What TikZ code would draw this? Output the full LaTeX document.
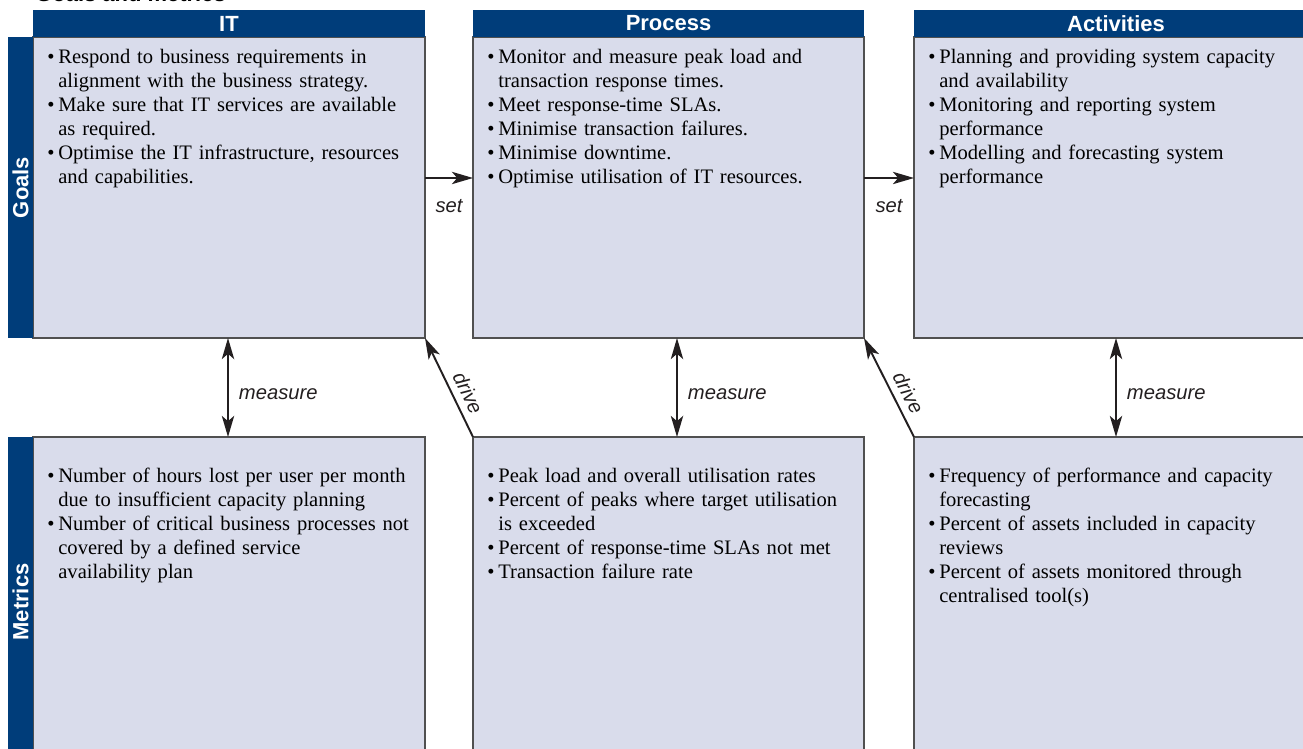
\documentclass[tikz,border=0pt]{standalone}
\usepackage{fontspec}
\setmainfont{Liberation Serif}
\setsansfont{Liberation Sans}
\usetikzlibrary{positioning,calc,arrows.meta}
\definecolor{colorhead}{HTML}{003D7A}
\definecolor{colorbody}{HTML}{D9DCEB}
\definecolor{colorrule}{HTML}{505050}
\definecolor{colorlink}{HTML}{231F20}
\newlength{\GoalsFigureUnit}
\setlength{\GoalsFigureUnit}{0.2mm}
\newcommand{\GoalsBodyFont}{\fontsize{11.7pt}{13.66pt}\selectfont}
\newcommand{\GoalsHeadFont}{\fontsize{12.5pt}{14pt}\selectfont\sffamily\bfseries}
\newcommand{\GoalsLinkFont}{\fontsize{11.5pt}{14pt}\selectfont\sffamily\itshape}
\newcommand{\gitem}[1]{\hangindent=11\GoalsFigureUnit\hangafter=1\noindent\makebox[11\GoalsFigureUnit][l]{\textbullet}#1\par}
\tikzset{
  goals body/.style={
    draw=colorrule, fill=colorbody, line width=0.6pt,
    anchor=north west, inner sep=0, outer sep=0
  },
  goals head/.style={
    fill=colorhead, text=white, font=\GoalsHeadFont,
    minimum height=27\GoalsFigureUnit, inner sep=0, outer sep=0
  },
  goals side/.style={
    fill=colorhead, minimum width=25\GoalsFigureUnit,
    inner sep=0, outer sep=0
  },
  side label/.style={text=white, font=\GoalsHeadFont, rotate=90, inner sep=0},
  goals title/.style={anchor=base west, font=\GoalsHeadFont, inner sep=0},
  goals text/.style={
    anchor=north west, inner sep=0, text width=380\GoalsFigureUnit,
    font=\GoalsBodyFont, text=black
  },
  link label/.style={font=\GoalsLinkFont, text=colorlink, inner sep=0},
  set link/.style={
    -{Stealth[length=12pt,width=7pt,inset=3pt]}, line width=1.1pt, draw=colorlink
  },
  measure link/.style={
    {Stealth[length=12pt,width=7pt,inset=3pt]}-{Stealth[length=12pt,width=7pt,inset=3pt]},
    line width=1.1pt, draw=colorlink
  },
  drive link/.style={
    -{Stealth[length=12pt,width=7pt,inset=3pt]}, line width=1.1pt, draw=colorlink
  }
}

\begin{document}
\begin{tikzpicture}[x=\GoalsFigureUnit, y=-\GoalsFigureUnit]
  \useasboundingbox (0,0) rectangle (1303,749);
  \node[goals title] (goals-title) at (35,2) {Goals and metrics};
  \foreach \col/\xpos/\wid/\colname in {it/33/392/IT,process/473/391/Process,activities/914/404/Activities} {
    \node[goals body, minimum width=\wid\GoalsFigureUnit, minimum height=301\GoalsFigureUnit]
      (goals-\col) at (\xpos,37) {};
    \node[goals head, minimum width=\wid\GoalsFigureUnit, above=0pt of goals-\col] (head-\col) {\colname};
    \node[goals body, minimum width=\wid\GoalsFigureUnit, minimum height=330\GoalsFigureUnit]
      (metrics-\col) at (\xpos,437) {};
  }
  \node[goals side, minimum height=301\GoalsFigureUnit, left=0pt of goals-it] (side-goals) {};
  \node[side label] at (side-goals.center) {Goals};
  \node[goals side, minimum height=330\GoalsFigureUnit, left=0pt of metrics-it] (side-metrics) {};
  \node[side label] at (side-metrics.center) {Metrics};
  % goals
  \node[goals text] (goals-it-text) at ($(goals-it.north west)+(14,12)$) {\raggedright
    \gitem{Respond to business requirements in\newline alignment with the business strategy.}
    \gitem{Make sure that IT services are available\newline as required.}
    \gitem{Optimise the IT infrastructure, resources\newline and capabilities.}};
  \node[goals text] (goals-process-text) at ($(goals-process.north west)+(14,12)$) {\raggedright
    \gitem{Monitor and measure peak load and\newline transaction response times.}
    \gitem{Meet response-time SLAs.}
    \gitem{Minimise transaction failures.}
    \gitem{Minimise downtime.}
    \gitem{Optimise utilisation of IT resources.}};
  \node[goals text] (goals-activities-text) at ($(goals-activities.north west)+(14,12)$) {\raggedright
    \gitem{Planning and providing system capacity\newline and availability}
    \gitem{Monitoring and reporting system\newline performance}
    \gitem{Modelling and forecasting system\newline performance}};
  % metrics
  \node[goals text] (metrics-it-text) at ($(metrics-it.north west)+(14,31)$) {\raggedright
    \gitem{Number of hours lost per user per month\newline due to insufficient capacity planning}
    \gitem{Number of critical business processes not\newline covered by a defined service\newline availability plan}};
  \node[goals text] (metrics-process-text) at ($(metrics-process.north west)+(14,31)$) {\raggedright
    \gitem{Peak load and overall utilisation rates}
    \gitem{Percent of peaks where target utilisation\newline is exceeded}
    \gitem{Percent of response-time SLAs not met}
    \gitem{Transaction failure rate}};
  \node[goals text] (metrics-activities-text) at ($(metrics-activities.north west)+(14,31)$) {\raggedright
    \gitem{Frequency of performance and capacity\newline forecasting}
    \gitem{Percent of assets included in capacity\newline reviews}
    \gitem{Percent of assets monitored through\newline centralised tool(s)}};
  % links
  \foreach \from/\to in {it/process,process/activities} {
    \draw[set link] ([yshift=9.5\GoalsFigureUnit]goals-\from.east) -- ([yshift=9.5\GoalsFigureUnit]goals-\to.west)
      node[midway, below=20\GoalsFigureUnit, link label] {set};
  }
  \foreach \col/\shift in {it/-1,process/8.5,activities/0} {
    \draw[measure link] ([xshift=\shift\GoalsFigureUnit]goals-\col.south) -- ([xshift=\shift\GoalsFigureUnit]metrics-\col.north)
      node[midway, right=10\GoalsFigureUnit, yshift=-7\GoalsFigureUnit, link label] {measure};
  }
  \foreach \from/\to in {process/it,activities/process} {
    \draw[drive link] (metrics-\from.north west) -- (goals-\to.south east)
      node[pos=0.38, sloped, above=7\GoalsFigureUnit, link label] {drive};
  }
\end{tikzpicture}
\end{document}
